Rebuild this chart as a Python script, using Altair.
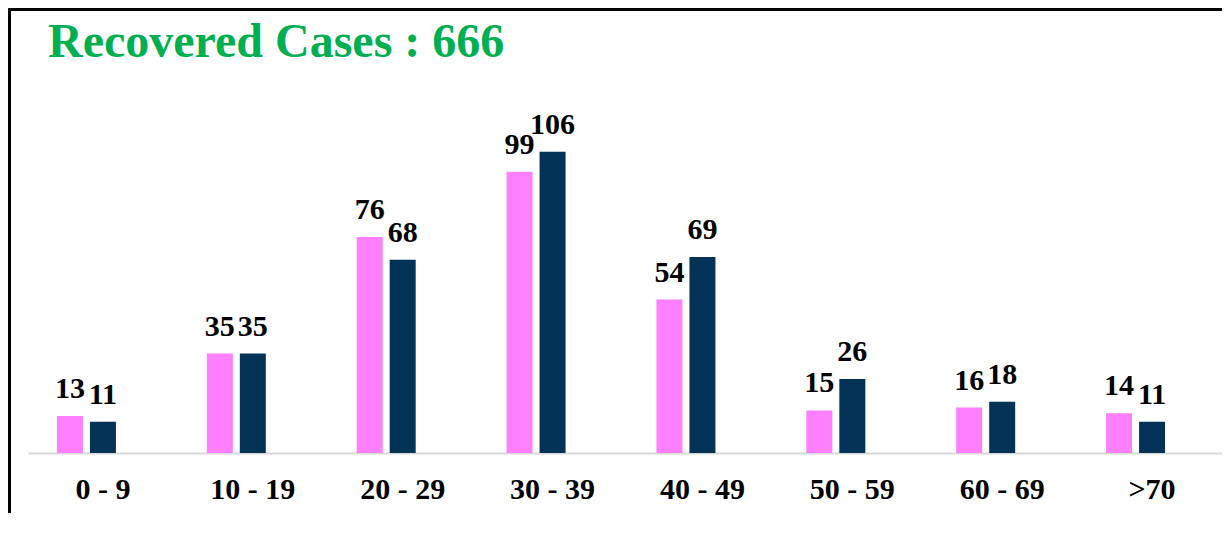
import altair as alt
import pandas as pd

age_groups = ["0 - 9", "10 - 19", "20 - 29", "30 - 39", "40 - 49", "50 - 59", "60 - 69", ">70"]
series_names = ["Female", "Male"]
female_values = [13, 35, 76, 99, 54, 15, 16, 14]
male_values = [11, 35, 68, 106, 69, 26, 18, 11]
offset_slots = ["Female", "Male", "Other"]
colors = ["#FF80FF", "#023356"]
title_text = ["Recovered Cases : 666"]

rows = []
for i, g in enumerate(age_groups):
    rows.append({"age": g, "series": "Female", "value": female_values[i]})
    rows.append({"age": g, "series": "Male", "value": male_values[i]})
df = pd.DataFrame(rows)

W, H = 1194, 341
X_RANGE = 1199
PAD = {"left": 20, "top": 104, "right": 0, "bottom": 60}
FONT = "Liberation Serif"

x_enc = alt.X("age:N", sort=age_groups,
              scale=alt.Scale(paddingInner=0, paddingOuter=0, range=[0, X_RANGE]),
              axis=alt.Axis(title=None, labelAngle=0, ticks=False, tickSize=0,
                            labelPadding=45, labelBaseline="alphabetic",
                            labelFont=FONT, labelFontSize=30, labelFontWeight="bold",
                            labelColor="#000000", domainColor="#d9d9d9", domainWidth=2,
                            grid=False))
xo_enc = alt.XOffset("series:N", scale=alt.Scale(domain=offset_slots,
                                                 paddingInner=0.2121, paddingOuter=0.877))
y_scale = alt.Scale(domain=[0, 120])

base = alt.Chart(df)

bars = base.mark_bar().encode(
    x=x_enc,
    xOffset=xo_enc,
    y=alt.Y("value:Q", scale=y_scale, axis=None),
    color=alt.Color("series:N", scale=alt.Scale(domain=series_names, range=colors), legend=None),
)

labels = base.mark_text(dy=-18, baseline="alphabetic", align="center",
                        font=FONT, fontSize=30, fontWeight="bold", color="#000000").encode(
    x=x_enc,
    xOffset=xo_enc,
    y=alt.Y("value:Q", scale=y_scale, axis=None),
    text=alt.Text("value:Q"),
)

title_mark = alt.Chart(alt.Data(values=[{"t": t} for t in title_text])).mark_text(
    align="left", baseline="alphabetic", font=FONT, fontSize=48, fontWeight="bold",
    color="#00B050").encode(
    x=alt.value(20), y=alt.value(-55), text="t:N")

frame_data = alt.Data(values=[{"k": 1}])
left_line = alt.Chart(frame_data).mark_rule(color="#000000", strokeWidth=3).encode(
    x=alt.value(-18.5), y=alt.value(-PAD["top"]), y2=alt.value(H + PAD["bottom"]))
top_line = alt.Chart(frame_data).mark_rule(color="#000000", strokeWidth=3).encode(
    x=alt.value(-PAD["left"]), x2=alt.value(W + PAD["right"]), y=alt.value(-PAD["top"] + 1.5))

chart = alt.layer(bars, labels, title_mark, left_line, top_line).properties(
    width=W, height=H,
    padding=PAD,
    autosize=alt.AutoSizeParams(type="none"),
    background="#ffffff",
).configure_view(strokeWidth=0, stroke="transparent")

chart.save("out.html", embed_options={"renderer": "svg", "actions": False})
